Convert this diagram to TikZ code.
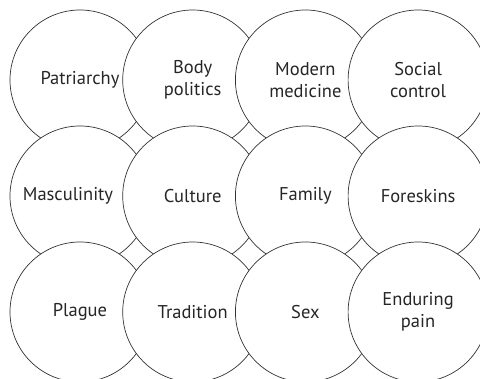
\documentclass[tikz,border=0pt]{standalone}
\usepackage{fontspec}
\setmainfont{PT Sans}
\begin{document}
\begin{tikzpicture}[x=1pt,y=-1pt,
  topicfont/.style={text=black!85, font=\fontsize{18.5}{21.5}\selectfont},
  topic/.style={circle, draw=black!80, line width=0.7pt, fill=white,
    minimum size=140pt, inner sep=0pt, align=center, topicfont}]
\useasboundingbox (0,0) rectangle (480,379);
\clip (0,0) rectangle (480,379);
% row 1
\node[topic] (patriarchy) at (80,80)    {Patriarchy};
\node[topic] (body)       at (192.7,80) {Body\\politics};
\node[topic] (medicine)   at (305.4,80) {Modern\\medicine};
\node[topic] (control)    at (418.1,80) {Social\\control};
% row 2 (the long word sits a little left so that it clears the next circle)
\node[topic, label={[topicfont, xshift=-12pt]center:Masculinity}]
  (masculinity) at (80,196) {};
\node[topic] (culture)     at (192.7,196) {Culture};
\node[topic] (family)      at (305.4,196) {Family};
\node[topic] (foreskins)   at (418.1,196) {Foreskins};
% row 3
\node[topic] (plague)    at (80,312)    {Plague};
\node[topic] (tradition) at (192.7,312) {Tradition};
\node[topic] (sex)       at (305.4,312) {Sex};
\node[topic] (pain)      at (418.1,312) {Enduring\\pain};
\end{tikzpicture}
\end{document}
